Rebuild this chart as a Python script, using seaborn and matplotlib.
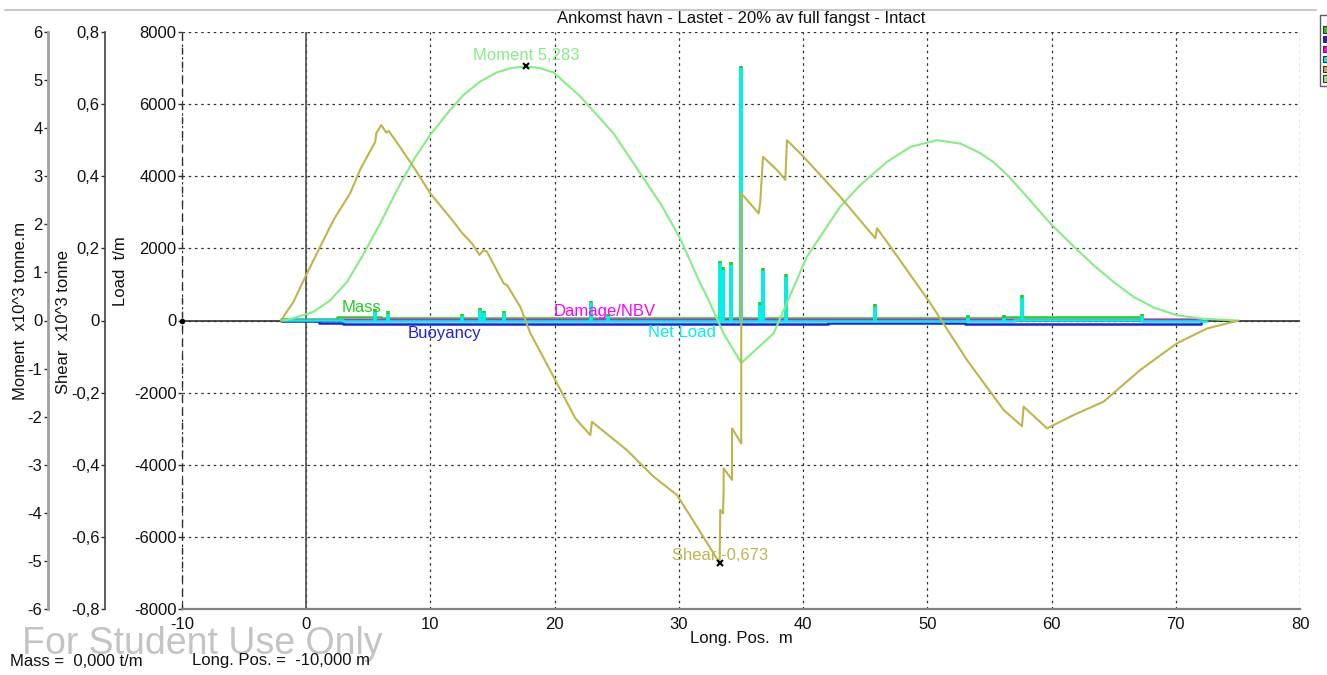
import numpy as np
import pandas as pd
import matplotlib
matplotlib.use("Agg")
import matplotlib.pyplot as plt
import seaborn as sns
from matplotlib.ticker import FuncFormatter
from matplotlib.lines import Line2D
from matplotlib.patches import Patch

# ---------------- data ----------------
title = "Ankomst havn - Lastet - 20% av full fangst - Intact"

moment_x = [-2.0, -1.55, 0.59, 1.93, 3.28, 4.61, 5.96, 7.30, 8.64, 9.98, 11.59, 12.66, 14.01, 15.35,
            16.5, 17.69, 18.8, 19.91, 22.06, 24.74, 26.89, 28.6, 30.11, 31.72, 32.26, 33.60, 35.02,
            37.62, 40.31, 42.99, 44.61, 45.68, 46.76, 48.63, 50.78, 52.66, 54.27, 55.34, 56.42,
            58.03, 59.90, 61.78, 63.39, 65.00, 66.61, 68.22, 70.10, 71.98, 74.93]
moment_v = [0.0, 0.01, 0.18, 0.42, 0.80, 1.38, 2.02, 2.71, 3.34, 3.86, 4.38, 4.69, 4.97, 5.16,
            5.25, 5.283, 5.25, 5.16, 4.66, 3.89, 3.06, 2.40, 1.70, 0.77, 0.50, -0.27, -0.884,
            -0.27, 1.33, 2.37, 2.82, 3.06, 3.30, 3.61, 3.75, 3.68, 3.48, 3.29, 3.03,
            2.57, 2.02, 1.54, 1.15, 0.80, 0.49, 0.27, 0.11, 0.04, 0.0]

shear_x = [-2.0, -1.83, -1.02, -0.08, 1.13, 2.20, 3.54, 4.35, 5.56, 5.64, 6.04, 6.44, 6.63, 7.17,
           8.64, 9.98, 11.86, 12.54, 13.34, 13.95, 14.28, 14.55, 15.89, 16.17, 17.23, 18.04,
           20.05, 21.66, 22.87, 23.0, 24.48, 25.8, 27.96, 29.85, 31.46, 33.28, 33.33, 33.55,
           33.60, 33.60, 34.28, 34.28, 35.02, 35.02, 36.42, 36.55, 36.77, 37.90, 38.57, 38.70,
           40.04, 42.99, 45.81, 45.95, 47.02, 50.24, 53.20, 56.14, 57.62, 57.75, 59.64, 61.78,
           64.19, 67.15, 70.10, 72.52, 75.06]
shear_v = [0.0, 0.011, 0.052, 0.121, 0.205, 0.279, 0.353, 0.419, 0.496, 0.519, 0.542, 0.521, 0.526, 0.500,
           0.426, 0.353, 0.274, 0.243, 0.214, 0.182, 0.195, 0.191, 0.103, 0.098, 0.038, -0.035,
           -0.165, -0.271, -0.318, -0.281, -0.322, -0.359, -0.433, -0.484, -0.572, -0.673, -0.525, -0.535,
           -0.475, -0.410, -0.442, -0.299, -0.341, 0.353, 0.297, 0.329, 0.454, 0.417, 0.390, 0.500,
           0.454, 0.343, 0.228, 0.256, 0.205, 0.048, -0.110, -0.248, -0.293, -0.239, -0.299, -0.262,
           -0.225, -0.137, -0.063, -0.022, 0.0]

mass_x = [-2.0, 2.5, 6.0, 9.0, 29.8, 40.0, 56.0, 67.3, 72.0]
mass_y = [40, 110, 70, 75, 70, 80, 100, 45, 0]
buoy_x = [-2.0, 1.0, 3.0, 8.0, 30.0, 42.0, 53.0, 56.5, 60.5, 64.0, 72.0]
buoy_y = [-20, -60, -90, -110, -95, -80, -90, -100, -110, -90, 0]
damage_x = [-1.0, 72.0]
damage_y = [15, 15]
net_x = [-2.0, 3.0, 9.0, 30.0, 40.0, 57.0, 67.3, 72.5]
net_y = [10, -20, -15, -25, -20, 10, -10, 0]

spike_x = [5.56, 6.55, 12.5, 13.95, 14.28, 15.94, 22.95, 24.3, 33.28, 33.55, 34.19, 35.02,
           36.55, 36.74, 38.62, 45.81, 53.3, 56.2, 57.62, 67.3]
spike_h = [240, 180, 120, 290, 200, 200, 480, 120, 1590, 1400, 1540, 7000,
           430, 1380, 1215, 385, 80, 80, 630, 120]

load_ticks = [-8000, -6000, -4000, -2000, 0, 2000, 4000, 6000, 8000]
moment_ticks = [-6, -5, -4, -3, -2, -1, 0, 1, 2, 3, 4, 5, 6]
shear_ticks = [-0.8, -0.6, -0.4, -0.2, 0.0, 0.2, 0.4, 0.6, 0.8]
x_ticks = [-10, 0, 10, 20, 30, 40, 50, 60, 70, 80]

series_names = ["Mass", "Buoyancy", "Damage/NBV", "Net Load", "Shear", "Moment"]
colors = {"Mass": "#22CC22", "Buoyancy": "#2020E0", "Damage/NBV": "#FF00FF",
          "Net Load": "#00F0F0", "Shear": "#BDB64A", "Moment": "#84EE84"}

# ---------------- style ----------------
sns.set_theme(style="white")
plt.rcParams['font.family'] = ['Liberation Sans', 'DejaVu Sans']
plt.rcParams['axes.unicode_minus'] = False

W, H = 1327, 675
fig = plt.figure(figsize=(W / 100, H / 100), dpi=100)
L, R, T, B = 182, 1300, 32, 609
ax = fig.add_axes([L / W, 1 - B / H, (R - L) / W, (B - T) / H])
ax.set_facecolor("white")

FS = 12

# zero lines
ax.axhline(0, color="#303030", lw=1.2, zorder=1.5)
ax.axvline(0, color="#505050", lw=1.2, zorder=1.5)

# load lines
df_mass = pd.DataFrame({"x": mass_x, "y": mass_y})
df_buoy = pd.DataFrame({"x": buoy_x, "y": buoy_y})
df_dmg = pd.DataFrame({"x": damage_x, "y": damage_y})
df_net = pd.DataFrame({"x": net_x, "y": net_y})
sns.lineplot(data=df_mass, x="x", y="y", ax=ax, color=colors["Mass"], lw=1.8,
             drawstyle="steps-post", estimator=None, sort=False, zorder=3)
sns.lineplot(data=df_buoy, x="x", y="y", ax=ax, color=colors["Buoyancy"], lw=1.8,
             drawstyle="steps-post", estimator=None, sort=False, zorder=3)
sns.lineplot(data=df_dmg, x="x", y="y", ax=ax, color=colors["Damage/NBV"], lw=1.5,
             estimator=None, sort=False, zorder=3.2)
sns.lineplot(data=df_net, x="x", y="y", ax=ax, color=colors["Net Load"], lw=1.8,
             drawstyle="steps-post", estimator=None, sort=False, zorder=3.3)

sp_x = np.array(spike_x)
sp_h = np.array(spike_h)
ax.vlines(sp_x, 0, sp_h + 70, colors=colors["Mass"], lw=2.6, zorder=3.4)
ax.vlines(sp_x, 0, sp_h, colors=colors["Net Load"], lw=2.6, zorder=3.5)

ax.set_xlim(-10, 80)
ax.set_ylim(-8000, 8000)
ax.set_xticks(x_ticks)
ax.set_yticks(load_ticks)
ax.xaxis.set_major_formatter(FuncFormatter(lambda v, p: f"{int(round(v))}"))
ax.yaxis.set_major_formatter(FuncFormatter(lambda v, p: f"{int(round(v))}"))
ax.grid(True, linestyle=(0, (2, 3)), color="#303030", lw=0.9)
ax.set_axisbelow(True)
for s in ["top", "right"]:
    ax.spines[s].set_visible(False)
ax.spines["left"].set_linestyle((0, (4, 6)))
ax.spines["left"].set_color("#303030")
ax.spines["left"].set_linewidth(1.0)
ax.spines["bottom"].set_color("#808080")
ax.spines["bottom"].set_linewidth(1.6)
ax.tick_params(axis="y", left=True, direction="out", length=3, width=1, color="#303030",
               labelsize=FS, pad=1, labelcolor="#111111")
ax.tick_params(axis="x", bottom=False, labelsize=FS, pad=0, labelcolor="#111111")
ax.set_xlabel("")
ax.set_ylabel("Load  t/m", fontsize=FS, color="#111111")
ax.yaxis.set_label_coords((128 - L) / (R - L), (B - 271) / (B - T))
ax.plot([-10], [0], marker="o", ms=3, color="black", clip_on=False, zorder=5)

# moment axis
axm = ax.twinx()
axm.set_ylim(-6, 6)
df_m = pd.DataFrame({"x": moment_x, "y": moment_v})
sns.lineplot(data=df_m, x="x", y="y", ax=axm, color=colors["Moment"], lw=1.5,
             estimator=None, sort=False)
axm.set_yticks(moment_ticks)
axm.yaxis.set_major_formatter(FuncFormatter(lambda v, p: f"{int(round(v))}"))
axm.yaxis.set_ticks_position("left")
axm.yaxis.set_label_position("left")
axm.spines["left"].set_position(("axes", (48 - L) / (R - L)))
axm.spines["left"].set_visible(True)
axm.spines["left"].set_color("#a0a0a0")
axm.spines["left"].set_linewidth(2.0)
for s in ["top", "right", "bottom"]:
    axm.spines[s].set_visible(False)
axm.tick_params(axis="y", direction="out", length=3, width=1, color="#303030",
                labelsize=FS, pad=1, labelcolor="#111111")
axm.set_xlabel("")
axm.set_ylabel("Moment  x10^3 tonne.m", fontsize=FS, color="#111111")
axm.yaxis.set_label_coords((28 - L) / (R - L), (B - 311) / (B - T))
axm.grid(False)

# shear axis
axs = ax.twinx()
axs.set_ylim(-0.8, 0.8)
df_s = pd.DataFrame({"x": shear_x, "y": shear_v})
sns.lineplot(data=df_s, x="x", y="y", ax=axs, color=colors["Shear"], lw=1.5,
             estimator=None, sort=False)
axs.set_yticks(shear_ticks)


def fmt_shear(v, p):
    if abs(v) < 1e-9:
        return "0"
    return f"{v:.1f}".replace(".", ",")


axs.yaxis.set_major_formatter(FuncFormatter(fmt_shear))
axs.yaxis.set_ticks_position("left")
axs.yaxis.set_label_position("left")
axs.spines["left"].set_position(("axes", (105 - L) / (R - L)))
axs.spines["left"].set_visible(True)
axs.spines["left"].set_color("#404040")
axs.spines["left"].set_linewidth(1.2)
for s in ["top", "right", "bottom"]:
    axs.spines[s].set_visible(False)
axs.tick_params(axis="y", direction="out", length=3, width=1, color="#303030",
                labelsize=FS, pad=1, labelcolor="#111111")
axs.set_xlabel("")
axs.set_ylabel("Shear  x10^3 tonne", fontsize=FS, color="#111111")
axs.yaxis.set_label_coords((71 - L) / (R - L), (B - 322) / (B - T))
axs.grid(False)
axs.set_xlim(-10, 80)

# extremes
im = int(np.argmax(moment_v))
axm.plot([moment_x[im]], [moment_v[im]], marker="x", color="black", ms=5, mew=1.5, zorder=6)
axm.annotate(f"Moment {moment_v[im]:.3f}".replace(".", ","), (moment_x[im], moment_v[im]),
             xytext=(0, 2.5), textcoords="offset points", ha="center", va="bottom",
             color=colors["Moment"], fontsize=FS)
isn = int(np.argmin(shear_v))
axs.plot([shear_x[isn]], [shear_v[isn]], marker="x", color="black", ms=5, mew=1.5, zorder=6)
axs.annotate(f"Shear {shear_v[isn]:.3f}".replace(".", ","), (shear_x[isn], shear_v[isn]),
             xytext=(0, 0), textcoords="offset points", ha="center", va="bottom",
             color=colors["Shear"], fontsize=FS)

# series labels
ax.text(4.43, 374, "Mass", color=colors["Mass"], fontsize=FS, ha="center", va="center", zorder=7)
ax.text(24.0, 263, "Damage/NBV", color=colors["Damage/NBV"], fontsize=FS, ha="center", va="center", zorder=7)
ax.text(11.1, -347, "Buoyancy", color=colors["Buoyancy"], fontsize=FS, ha="center", va="center", zorder=7)
ax.text(30.27, -319, "Net Load", color=colors["Net Load"], fontsize=FS, ha="center", va="center", zorder=7)

# figure texts
fig.text(741 / W, 1 - 18 / H, title, ha="center", va="center", fontsize=FS, color="#111111")
fig.text(741 / W, 1 - 638 / H, "Long. Pos.  m", ha="center", va="center", fontsize=FS, color="#111111")
fig.text(22 / W, 1 - 644 / H, "For Student Use Only", ha="left", va="center", fontsize=27,
         color="#c4c4c4", zorder=0)
fig.text(10 / W, 1 - 661 / H, "Mass =  0,000 t/m", ha="left", va="center", fontsize=FS, color="#111111")
fig.text(192 / W, 1 - 661 / H, "Long. Pos. =  -10,000 m", ha="left", va="center", fontsize=FS, color="#111111")

fig.add_artist(Line2D([5 / W, 1316 / W], [1 - 10 / H, 1 - 10 / H], color="#c8c8c8", lw=1.5,
                      transform=fig.transFigure))

# clipped legend box at right edge
handles = [Patch(facecolor=colors[n], edgecolor="#333333", lw=0.8) for n in series_names]
leg = fig.legend(handles, [""] * len(series_names), loc="upper left",
                 bbox_to_anchor=(1316 / W, 1 - 11 / H), frameon=True, fontsize=6,
                 title=" ", title_fontsize=5,
                 handlelength=0.9, handleheight=0.75, labelspacing=0.22, borderpad=0.3,
                 handletextpad=0.2, fancybox=False)
leg.get_frame().set_edgecolor("#333333")
leg.get_frame().set_linewidth(1.0)

fig.savefig("out.png", dpi=100)
